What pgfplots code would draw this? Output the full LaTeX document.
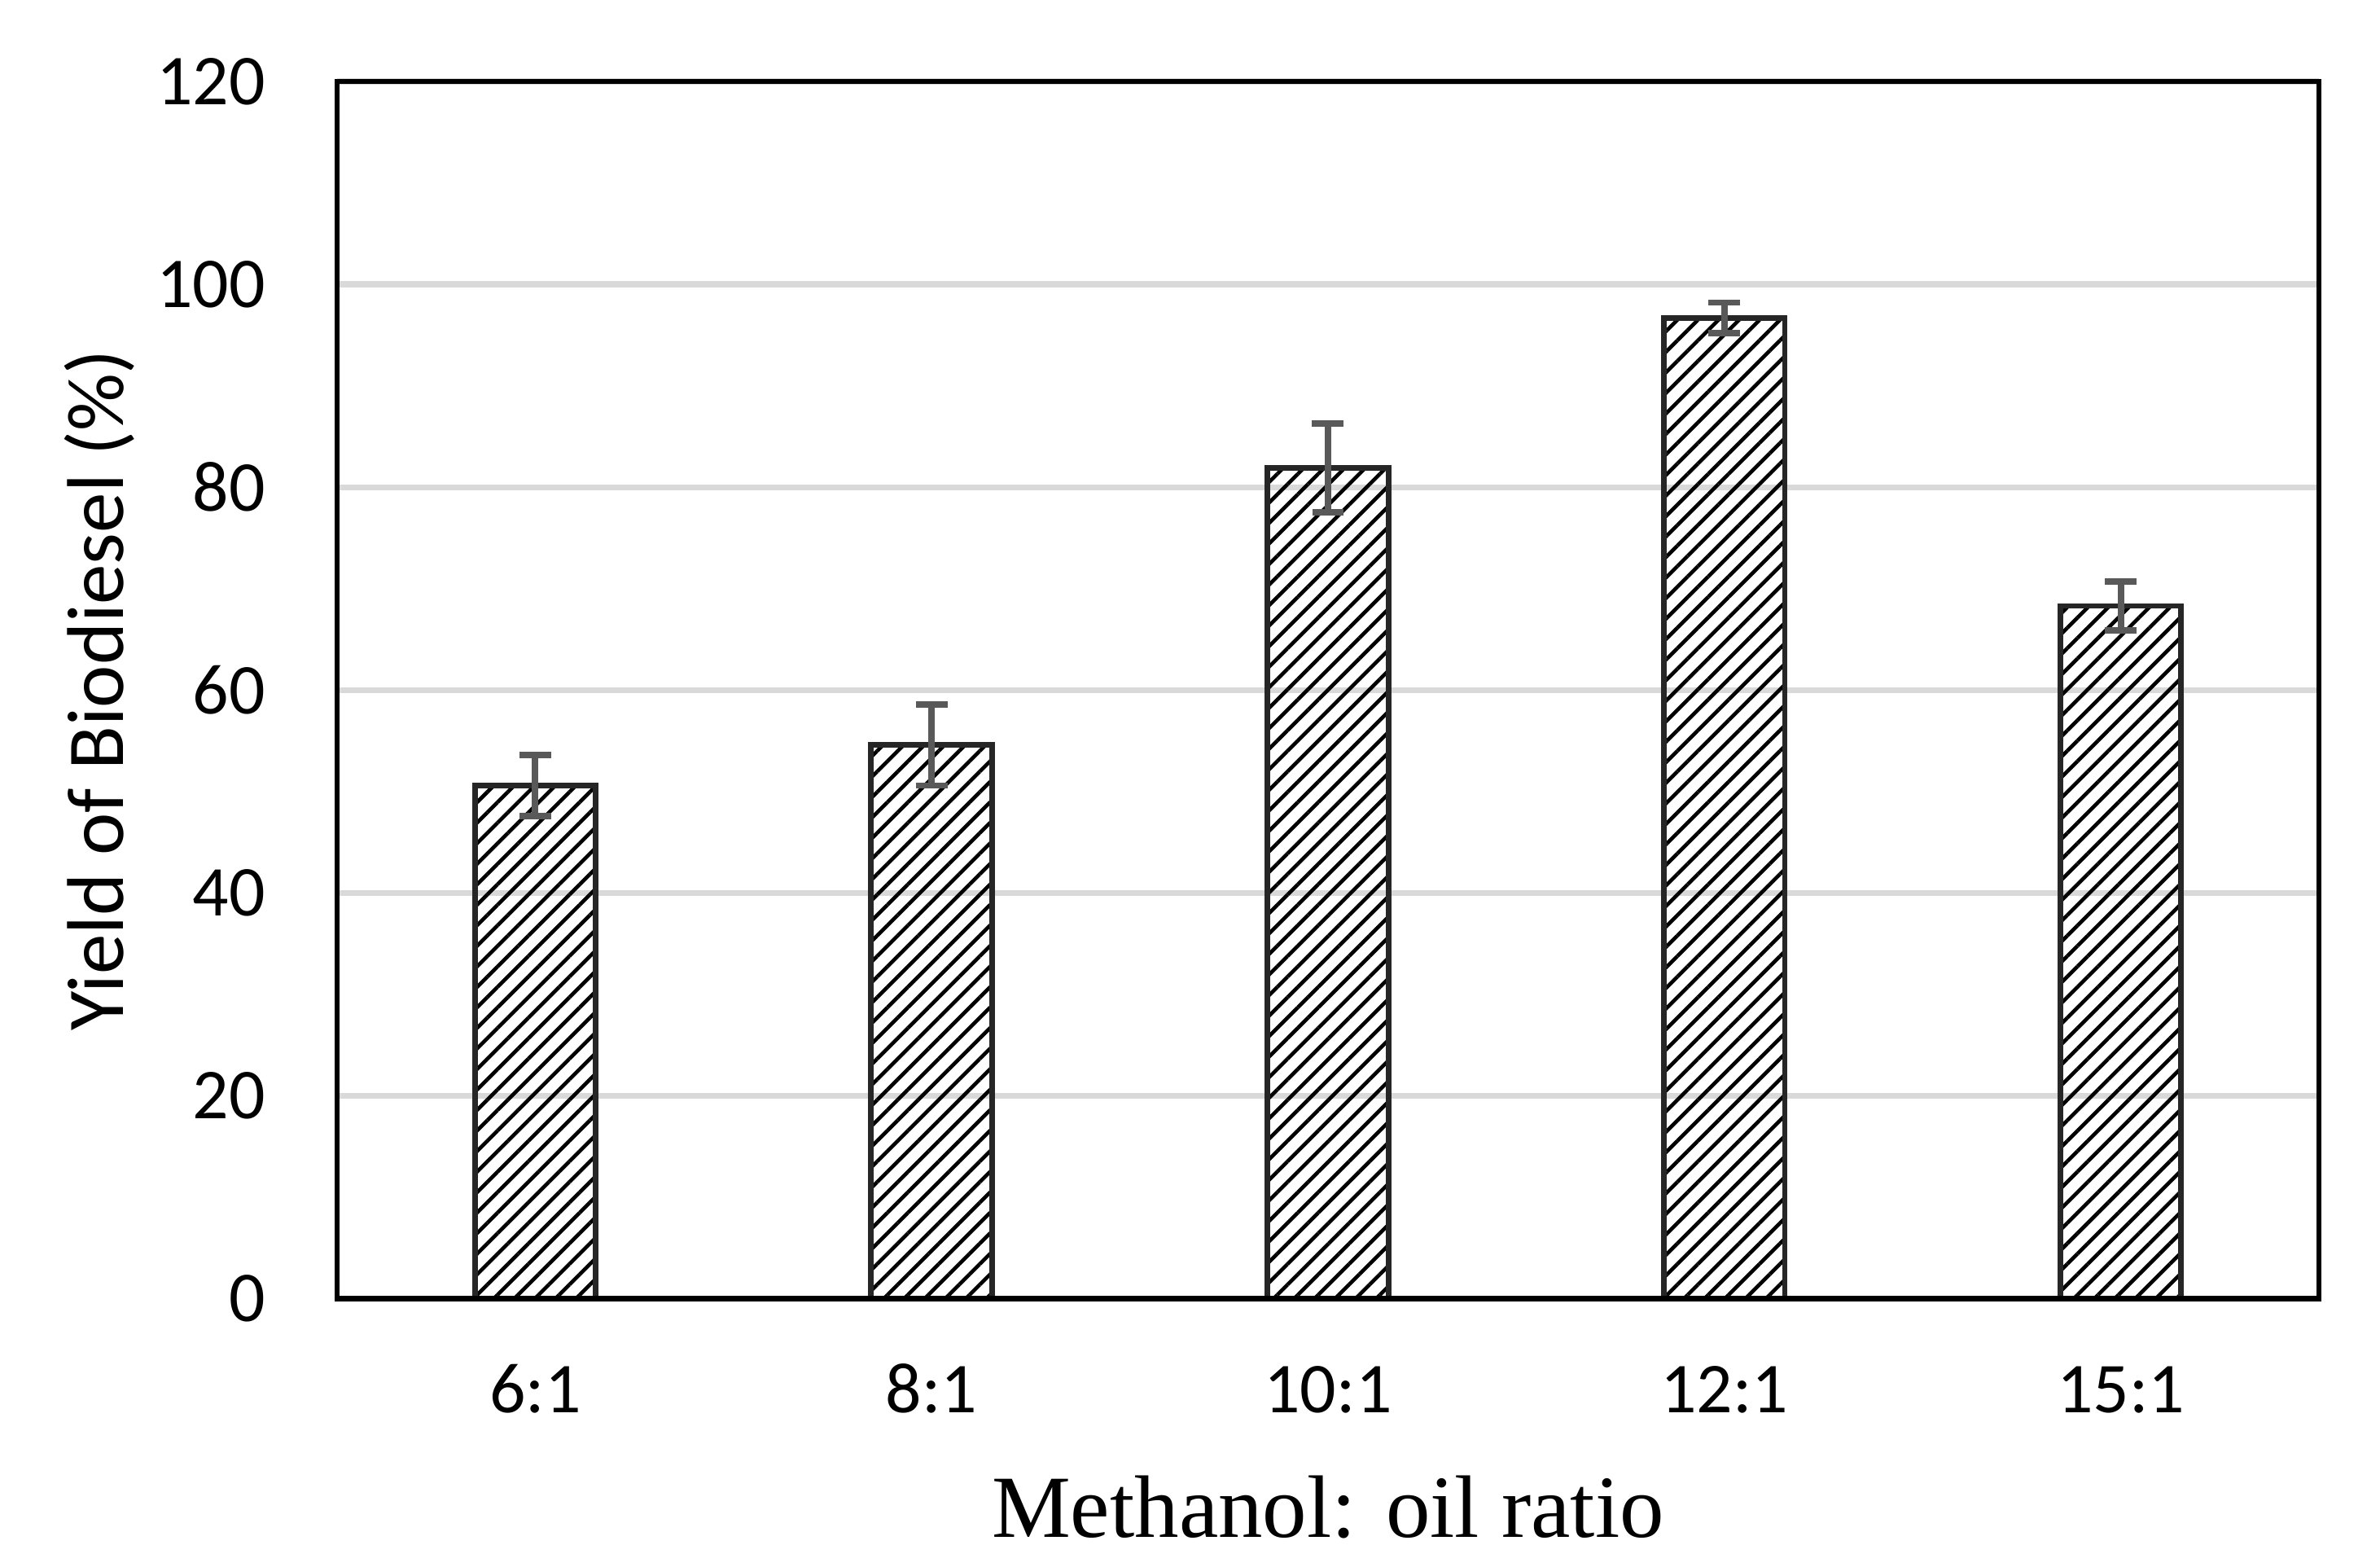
\documentclass[border=0pt]{standalone}
\usepackage{fontspec}
\setmainfont{Carlito}
\newfontfamily\timesfont{Liberation Serif}
\usepackage{pgfplots}
\pgfplotsset{compat=1.18}
\usetikzlibrary{patterns.meta}
\definecolor{barline}{HTML}{262626}
\definecolor{errcol}{HTML}{595959}
\definecolor{gridcol}{HTML}{D9D9D9}
\begin{document}
\begin{tikzpicture}
\path[use as bounding box] (0,0) rectangle (442.9pt,291.5pt);
\begin{axis}[
  at={(62.73pt,49.85pt)}, anchor=south west,
  scale only axis, width=368.8pt, height=226.5pt,
  xmin=-0.5, xmax=4.5, ymin=0, ymax=120,
  xtick={0,1,2,3,4}, xticklabels={6:1,8:1,10:1,12:1,15:1},
  ytick={0,20,40,60,80,100,120},
  major tick length=0pt,
  ymajorgrids, grid style={gridcol, line width=1.1pt},
  axis line style={black, line width=0.86pt},
  /pgf/number format/assume math mode=true,
  tick label style={font=\fontsize{13.3}{16}\selectfont, inner sep=0pt},
  xticklabel style={anchor=base, yshift=-21.1pt},
  yticklabel style={anchor=east, xshift=-13.2pt},
  xlabel={Methanol: oil ratio},
  xlabel style={font=\timesfont\fontsize{16.5}{20}\selectfont, at={(axis description cs:0.5,-0.196)}, anchor=base, inner sep=0pt},
  ylabel={Yield of Biodiesel (\%)},
  ylabel style={font=\fontsize{15}{18}\selectfont, at={(axis description cs:-0.1077,0.5)}, anchor=base, inner sep=0pt},
]
\addplot[ybar, bar width=0.305, draw=barline, line width=1.05pt,
  pattern={Lines[angle=45,distance=2.7pt,line width=0.7pt]}, pattern color=black,
  error bars/.cd, y dir=both, y explicit,
  error bar style={errcol, line width=1.2pt},
  error mark options={errcol, line width=1.2pt, mark size=2.95pt, rotate=90}]
table[x=x, y=y, y error=e] {
x y e
0 50.6 3.0
1 54.6 4.0
2 81.9 4.35
3 96.7 1.5
4 68.3 2.4
};
\draw[black, line width=1.1pt] (rel axis cs:0,0) -- (rel axis cs:1,0);
\end{axis}
\end{tikzpicture}
\end{document}
